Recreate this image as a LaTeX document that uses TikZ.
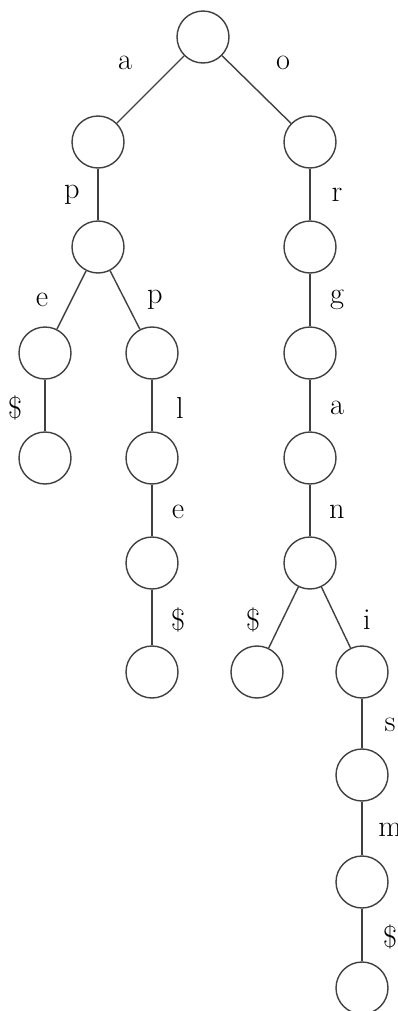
\documentclass[tikz,border=0pt]{standalone}
\begin{document}
\begin{tikzpicture}[x=0.02cm,y=-0.02cm,
    vert/.style={draw=black!75,line width=0.8pt,circle,minimum size=1.04cm,inner sep=0pt},
    lbl/.style={font=\LARGE,inner sep=0pt},
    edge/.style={draw=black!75,line width=0.8pt}]
  \useasboundingbox (0,0) rectangle (398,1011);
  % trie vertices
  \node[vert] (n) at (203,37) {};
  \node[vert] (na) at (98,142) {};
  \node[vert] (no) at (310,142) {};
  \node[vert] (nap) at (98,247) {};
  \node[vert] (nor) at (310,247) {};
  \node[vert] (nape) at (45,353) {};
  \node[vert] (napp) at (152,353) {};
  \node[vert] (norg) at (310,353) {};
  \node[vert] (napeE) at (45,458) {};
  \node[vert] (nappl) at (152,458) {};
  \node[vert] (norga) at (310,458) {};
  \node[vert] (napple) at (152,563) {};
  \node[vert] (norgan) at (310,563) {};
  \node[vert] (nappleE) at (152,672) {};
  \node[vert] (norganE) at (257,672) {};
  \node[vert] (norgani) at (362,672) {};
  \node[vert] (norganis) at (362,775) {};
  \node[vert] (norganism) at (362,882) {};
  \node[vert] (norganismE) at (362,988) {};
  % edges
  \draw[edge] (n) -- (na);
  \draw[edge] (n) -- (no);
  \draw[edge] (na) -- (nap);
  \draw[edge] (nap) -- (nape);
  \draw[edge] (nap) -- (napp);
  \draw[edge] (nape) -- (napeE);
  \draw[edge] (napp) -- (nappl) -- (napple) -- (nappleE);
  \draw[edge] (no) -- (nor) -- (norg) -- (norga) -- (norgan);
  \draw[edge] (norgan) -- (norganE);
  \draw[edge] (norgan) -- (norgani);
  \draw[edge] (norgani) -- (norganis) -- (norganism) -- (norganismE);
  % letters
  \node[lbl] (la) at (125,63) {a};
  \node[lbl] (lo) at (283,63) {o};
  \node[lbl] (lap) at (72,195) {p};
  \node[lbl] (lor) at (337,195) {r};
  \node[lbl] (lape) at (42,300) {e};
  \node[lbl] (lapp) at (155,300) {p};
  \node[lbl] (lorg) at (337,300) {g};
  \node[lbl] (lapeE) at (15,408) {\$};
  \node[lbl] (lappl) at (180,408) {l};
  \node[lbl] (lorga) at (337,408) {a};
  \node[lbl] (lapple) at (178,512) {e};
  \node[lbl] (lorgan) at (337,512) {n};
  \node[lbl] (lappleE) at (178,620) {\$};
  \node[lbl] (lorganE) at (253,620) {\$};
  \node[lbl] (lorgani) at (367,620) {i};
  \node[lbl] (lorganis) at (390,725) {s};
  \node[lbl] (lorganism) at (390,830) {m};
  \node[lbl] (lorganismE) at (390,937) {\$};
\end{tikzpicture}
\end{document}
